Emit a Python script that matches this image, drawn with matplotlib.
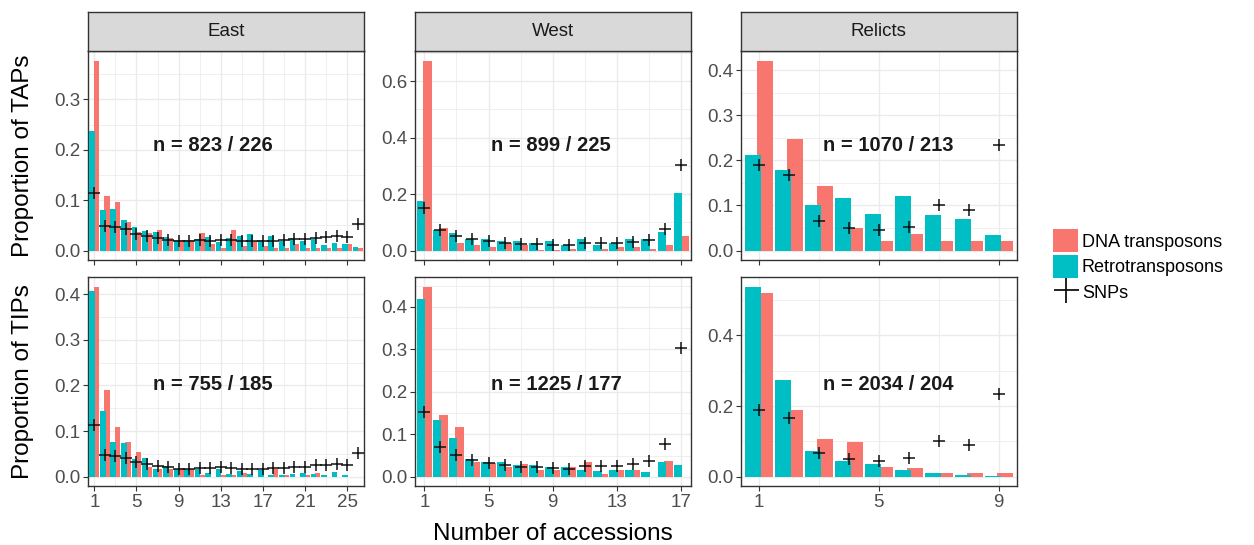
import numpy as np
import matplotlib
matplotlib.use("Agg")
import matplotlib.pyplot as plt
from matplotlib.patches import Patch
from matplotlib.lines import Line2D

plt.rcParams['font.family'] = ['Liberation Sans', 'DejaVu Sans']

RED = "#F8766D"
TEAL = "#00BFC4"

regions = ["East", "West", "Relicts"]
row_titles = ["Proportion of TAPs", "Proportion of TIPs"]
n_tap = ["n = 823 / 226", "n = 899 / 225", "n = 1070 / 213"]
n_tip = ["n = 755 / 185", "n = 1225 / 177", "n = 2034 / 204"]

x_breaks = [[1, 5, 9, 13, 17, 21, 25], [1, 5, 9, 13, 17], [1, 5, 9]]

# TAPs (top row)
tap_dna_east = [0.377, 0.109, 0.097, 0.0575, 0.036, 0.034, 0.040, 0.024, 0.020, 0.020,
                0.034, 0.013, 0.005, 0.040, 0.009, 0.019, 0.008, 0.005, 0.004, 0.012,
                0.004, 0.004, 0.004, 0.004, 0.012, 0.004]
tap_retro_east = [0.238, 0.081, 0.083, 0.0615, 0.046, 0.038, 0.036, 0.026, 0.020, 0.021,
                  0.023, 0.026, 0.017, 0.025, 0.029, 0.032, 0.020, 0.028, 0.019, 0.025,
                  0.018, 0.023, 0.010, 0.015, 0.012, 0.0066]
tap_dna_west = [0.673, 0.081, 0.028, 0.021, 0.011, 0.025, 0.019, 0.0035, 0.0035, 0.007,
                0.0, 0.007, 0.011, 0.011, 0.007, 0.018, 0.053]
tap_retro_west = [0.177, 0.071, 0.061, 0.040, 0.039, 0.032, 0.035, 0.028, 0.032, 0.021,
                  0.039, 0.021, 0.028, 0.039, 0.040, 0.067, 0.205]
tap_dna_relicts = [0.422, 0.247, 0.144, 0.051, 0.022, 0.036, 0.022, 0.022, 0.022]
tap_retro_relicts = [0.213, 0.178, 0.100, 0.116, 0.080, 0.120, 0.0785, 0.069, 0.034]

# TIPs (bottom row)
tip_dna_east = [0.416, 0.189, 0.110, 0.076, 0.054, 0.021, 0.016, 0.016, 0.020, 0.0176,
                0.005, 0.0, 0.005, 0.005, 0.009, 0.0, 0.0, 0.016, 0.005, 0.0,
                0.005, 0.009, 0.0, 0.0, 0.0, 0.0]
tip_retro_east = [0.407, 0.143, 0.076, 0.074, 0.040, 0.041, 0.018, 0.0235, 0.0176, 0.0176,
                  0.016, 0.009, 0.016, 0.007, 0.012, 0.007, 0.014, 0.005, 0.005, 0.007,
                  0.009, 0.007, 0.003, 0.011, 0.003, 0.0]
tip_dna_west = [0.447, 0.146, 0.118, 0.034, 0.033, 0.023, 0.029, 0.017, 0.017, 0.022,
                0.034, 0.0055, 0.017, 0.017, 0.0, 0.038, 0.0]
tip_retro_west = [0.418, 0.134, 0.092, 0.043, 0.034, 0.034, 0.027, 0.027, 0.024, 0.022,
                  0.017, 0.0125, 0.015, 0.017, 0.011, 0.034, 0.027]
tip_dna_relicts = [0.520, 0.190, 0.108, 0.097, 0.029, 0.0235, 0.0094, 0.0094, 0.0094]
tip_retro_relicts = [0.537, 0.274, 0.074, 0.046, 0.035, 0.018, 0.0094, 0.004, 0.001]

# SNPs (same in both rows)
snp_east = [0.114, 0.048, 0.046, 0.042, 0.033, 0.028, 0.0245, 0.021, 0.018, 0.018,
            0.020, 0.019, 0.021, 0.020, 0.018, 0.018, 0.018, 0.019, 0.020, 0.0225,
            0.022, 0.025, 0.026, 0.028, 0.026, 0.053]
snp_west = [0.152, 0.071, 0.051, 0.039, 0.033, 0.027, 0.024, 0.022, 0.021, 0.019,
            0.026, 0.025, 0.026, 0.031, 0.037, 0.077, 0.303]
snp_relicts = [0.190, 0.167, 0.066, 0.051, 0.046, 0.053, 0.101, 0.089, 0.234]

dna = [[tap_dna_east, tap_dna_west, tap_dna_relicts],
       [tip_dna_east, tip_dna_west, tip_dna_relicts]]
retro = [[tap_retro_east, tap_retro_west, tap_retro_relicts],
         [tip_retro_east, tip_retro_west, tip_retro_relicts]]
snps = [snp_east, snp_west, snp_relicts]
n_text = [n_tap, n_tip]
y_steps = [[0.1, 0.2, 0.1], [0.1, 0.1, 0.2]]
n_xfrac = [0.236, 0.275, 0.298]
n_yfrac = [0.549, 0.486]

W, H = 1254, 545
fig = plt.figure(figsize=(W / 100, H / 100), dpi=100)
lefts = [88, 414.7, 740.7]
pw = 276
row_tops = [51, 277.3]
ph = 209

for r in range(2):
    for c in range(3):
        ax = fig.add_axes([lefts[c] / W, 1 - (row_tops[r] + ph) / H, pw / W, ph / H])
        d = np.array(dna[r][c])
        t = np.array(retro[r][c])
        s = np.array(snps[c])
        x = np.arange(1, len(d) + 1)
        ax.bar(x + 0.2, d, width=0.533, color=RED, zorder=2, linewidth=0)
        ax.bar(x - 0.2, t, width=0.533, color=TEAL, zorder=3, linewidth=0)
        ax.plot(x, s, '+', color='#111111', ms=9, mew=1.1, zorder=4)

        ymax = max(d.max(), t.max(), s.max())
        ax.set_ylim(-0.05 * ymax, 1.05 * ymax)
        ax.set_xlim(0.4, len(d) + 0.6)

        step = y_steps[r][c]
        yt = np.arange(0, ymax + 1e-9, step)
        ax.set_yticks(yt)
        ax.set_yticklabels(["%.1f" % v for v in yt])
        ax.set_yticks(np.arange(step / 2, 1.05 * ymax, step), minor=True)
        xb = x_breaks[c]
        ax.set_xticks(xb)
        xstep = xb[1] - xb[0]
        ax.set_xticks(np.arange(xb[0] + xstep / 2, len(d) + 0.6, xstep), minor=True)

        ax.set_axisbelow(True)
        ax.grid(which='major', color='#EBEBEB', lw=1.0, zorder=0)
        ax.grid(which='minor', color='#EBEBEB', lw=0.55, zorder=0)
        for sp in ax.spines.values():
            sp.set_color('#333333')
            sp.set_linewidth(1.0)
        ax.tick_params(which='major', direction='out', length=3.5, width=0.8,
                       color='#333333', labelcolor='#4D4D4D', labelsize=13.5, pad=2)
        ax.tick_params(which='minor', length=0)
        if r == 0:
            ax.tick_params(labelbottom=False)

        ax.text(n_xfrac[c], n_yfrac[r], n_text[r][c], transform=ax.transAxes,
                ha='left', va='center', fontsize=14.5, fontweight='bold', color='#1A1A1A')

        if r == 0:
            sax = fig.add_axes([lefts[c] / W, 1 - 51 / H, pw / W, 39 / H])
            sax.set_facecolor('#D9D9D9')
            sax.set_xticks([])
            sax.set_yticks([])
            for sp in sax.spines.values():
                sp.set_color('#333333')
                sp.set_linewidth(1.0)
            sax.text(0.5, 0.5, regions[c], ha='center', va='center',
                     fontsize=13.5, color='#1A1A1A', transform=sax.transAxes)

for r in range(2):
    fig.text(23 / W, 1 - (row_tops[r] + ph / 2) / H, row_titles[r], rotation=90,
             ha='center', va='center', fontsize=17.5)
fig.text(553 / W, 1 - 534 / H, "Number of accessions", ha='center', va='center',
         fontsize=17.5)

handles = [Patch(facecolor=RED, edgecolor='none'),
           Patch(facecolor=TEAL, edgecolor='none'),
           Line2D([], [], marker='+', ls='none', color='#111111', ms=18, mew=1.3)]
fig.legend(handles, ["DNA transposons", "Retrotransposons", "SNPs"],
           loc='upper left', bbox_to_anchor=(1053 / W, 1 - 229 / H), frameon=False,
           fontsize=13, handlelength=1.4, handleheight=1.6, labelspacing=0.15,
           handletextpad=0.2, borderpad=0, borderaxespad=0)

fig.savefig("out.png", dpi=100)
